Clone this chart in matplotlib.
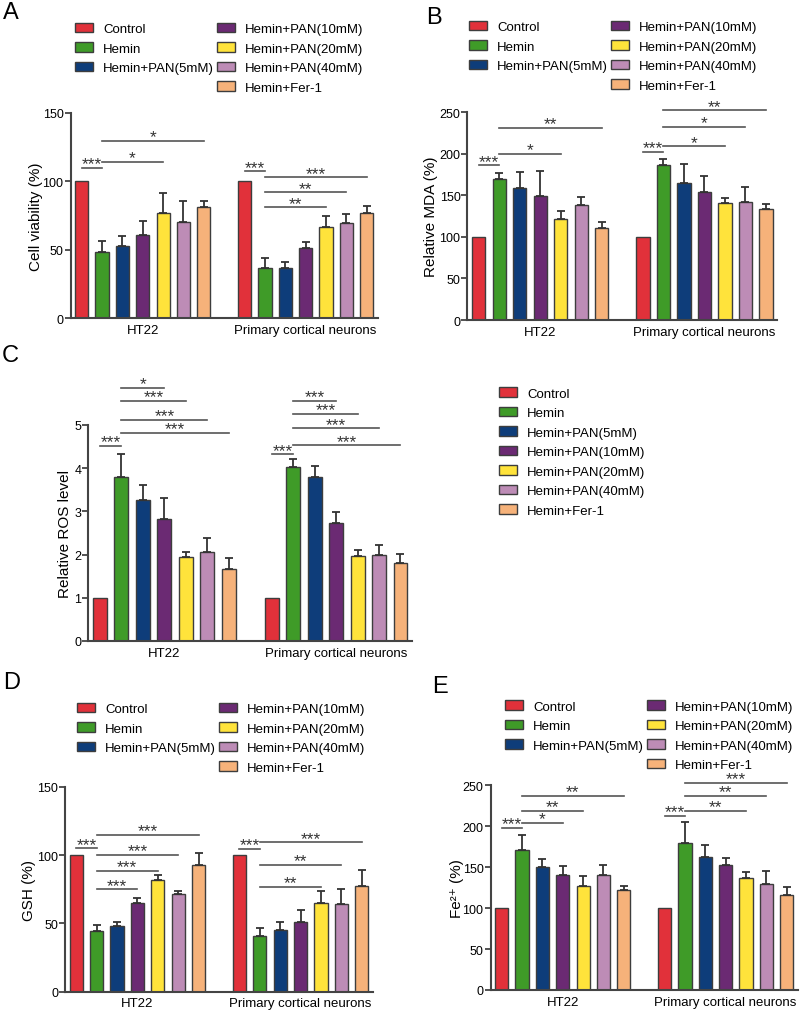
import matplotlib
matplotlib.use('Agg')
import matplotlib.pyplot as plt
from matplotlib.patches import Patch
import numpy as np

plt.rcParams['font.family'] = ['Liberation Sans', 'DejaVu Sans']

groups = ['HT22', 'Primary cortical neurons']
treatments = ['Control', 'Hemin', 'Hemin+PAN(5mM)', 'Hemin+PAN(10mM)',
              'Hemin+PAN(20mM)', 'Hemin+PAN(40mM)', 'Hemin+Fer-1']
colors = ['#E1313A', '#3F9B28', '#0E3D7A', '#6B2A73', '#FFE33B', '#BD8CB6', '#F6B27A']

# A - cell viability
via_ht22 = [100, 48, 52.4, 61, 76.6, 70, 81]
via_ht22_err = [0, 8, 7.4, 9.7, 15.1, 15.4, 4.4]
via_pcn = [100, 36.8, 36.8, 51.2, 66.8, 69.8, 76.6]
via_pcn_err = [0, 7.3, 3.9, 4.4, 7.6, 6.1, 5.6]
via_sig = [(0, 1, 109.8, '***'), (1, 4, 114.4, '*'), (1, 6, 129.8, '*'),
           (7, 8, 107.3, '***'), (8, 11, 81, '**'), (8, 12, 92, '**'), (8, 13, 103, '***')]

# B - MDA
mda_ht22 = [100, 169.2, 158.4, 149.1, 121, 137.9, 110.5]
mda_ht22_err = [0, 8, 19.2, 29.8, 10.4, 10.4, 7.7]
mda_pcn = [100, 186.1, 165.2, 154.3, 141.1, 141.5, 133.4]
mda_pcn_err = [0, 8, 21.7, 19.3, 5.6, 18.1, 6.1]
mda_sig = [(0, 1, 186, '***'), (1, 4, 199.8, '*'), (1, 6, 231.1, '**'),
           (7, 8, 202.2, '***'), (8, 11, 208.6, '*'), (8, 12, 231.9, '*'), (8, 13, 252, '**')]

# C - ROS
ros_ht22 = [1, 3.80, 3.26, 2.82, 1.94, 2.05, 1.66]
ros_ht22_err = [0, 0.54, 0.36, 0.48, 0.13, 0.33, 0.25]
ros_pcn = [1, 4.02, 3.79, 2.74, 1.97, 1.98, 1.81]
ros_pcn_err = [0, 0.19, 0.25, 0.25, 0.14, 0.25, 0.20]
ros_sig = [(0, 1, 4.51, '***'), (1, 3, 5.86, '*'), (1, 4, 5.56, '***'), (1, 5, 5.12, '***'),
           (1, 6, 4.81, '***'), (7, 8, 4.32, '***'), (8, 10, 5.56, '***'), (8, 11, 5.25, '***'),
           (8, 12, 4.92, '***'), (8, 13, 4.53, '***')]

# D - GSH
gsh_ht22 = [100, 44.1, 47.8, 64.6, 82, 71.5, 92.9]
gsh_ht22_err = [0, 4.4, 2.9, 4.2, 3.1, 2.2, 8.6]
gsh_pcn = [100, 40.5, 44.9, 50.7, 64.6, 64.1, 77.1]
gsh_pcn_err = [0, 6.1, 6.3, 9.3, 9.3, 10.8, 11.7]
gsh_sig = [(0, 1, 104.9, '***'), (1, 3, 74.9, '***'), (1, 4, 88.3, '***'), (1, 5, 100.2, '***'),
           (1, 6, 114.6, '***'), (7, 8, 104.4, '***'), (8, 11, 76.8, '**'), (8, 12, 92.7, '**'),
           (8, 13, 109.3, '***')]

# E - Fe2+
fe_ht22 = [100, 171.4, 149.8, 140, 127.4, 140.9, 121.7]
fe_ht22_err = [0, 18.3, 10.2, 11, 11.9, 11.8, 4.9]
fe_pcn = [100, 180, 162, 153.1, 136.8, 129.5, 116.4]
fe_pcn_err = [0, 24.8, 14.7, 8.5, 6.9, 15.9, 9]
fe_sig = [(0, 1, 197.9, '***'), (1, 3, 204, '*'), (1, 4, 219, '**'), (1, 6, 237.4, '**'),
          (7, 8, 213, '***'), (8, 11, 219, '**'), (8, 12, 237.4, '**'), (8, 13, 252.9, '***')]

W, H = 800, 1012
fig = plt.figure(figsize=(W / 100, H / 100), dpi=100)

xpos = np.r_[np.arange(7), np.arange(8, 15)]
EDGE = '#3d3d3d'


def px_axes(left, right, top, bottom):
    return fig.add_axes([left / W, 1 - bottom / H, (right - left) / W, (bottom - top) / H])


def panel(ax, ht, ht_err, pcn, pcn_err, ymax, ystep, ylabel, sigs, ylab_x):
    vals = np.array(list(ht) + list(pcn), dtype=float)
    errs = np.array(list(ht_err) + list(pcn_err), dtype=float)
    ax.bar(xpos, vals, width=0.65, color=colors * 2, edgecolor=EDGE, linewidth=1, zorder=2)
    m = errs > 0
    ax.errorbar(xpos[m], vals[m], yerr=[np.zeros(m.sum()), errs[m]], fmt='none',
                ecolor='#333333', elinewidth=1.3, capsize=3, capthick=1.3, zorder=3)
    for i, j, y, s in sigs:
        ax.plot([xpos[i], xpos[j]], [y, y], color='#555555', lw=1.2, clip_on=False, zorder=4)
        ax.annotate(s, ((xpos[i] + xpos[j]) / 2, y), xytext=(0, -0.3), textcoords='offset points',
                    ha='center', va='baseline', fontsize=12.5, color='#333333',
                    annotation_clip=False)
    ax.set_xlim(-0.55, 14.55)
    ax.set_ylim(0, ymax)
    ax.set_yticks(np.arange(0, ymax + ystep / 2, ystep))
    ax.set_xticks([3, 11])
    ax.set_xticklabels(groups, fontsize=9.5)
    ax.tick_params(axis='x', length=0, pad=4)
    ax.tick_params(axis='y', length=4, width=1.3, pad=1, labelsize=9, color='#444444')
    for s in ['top', 'right']:
        ax.spines[s].set_visible(False)
    for s in ['left', 'bottom']:
        ax.spines[s].set_linewidth(1.5)
        ax.spines[s].set_color('#444444')
    ax.set_ylabel(ylabel, fontsize=11)
    ax.yaxis.set_label_coords(ylab_x, 0.5)


def legend(x0, yc, two_col=True):
    hs = [Patch(facecolor=c, edgecolor=EDGE, lw=1) for c in colors]
    labels = list(treatments)
    if two_col:
        hs = hs[:3] + [Patch(facecolor='none', edgecolor='none')] + hs[3:]
        labels = labels[:3] + [''] + labels[3:]
    fig.legend(hs, labels, loc='upper left', bbox_to_anchor=(x0 / W, 1 - (yc - 8.5) / H),
               ncol=2 if two_col else 1, frameon=False, borderpad=0, borderaxespad=0,
               fontsize=9.5, handlelength=1.35, handleheight=0.77, handletextpad=0.8,
               labelspacing=0.53, columnspacing=0.2)


axA = px_axes(70.5, 377.9, 114, 319)
panel(axA, via_ht22, via_ht22_err, via_pcn, via_pcn_err, 150, 50,
      'Cell viability (%)', via_sig, -0.09)
legend(75, 32)

axB = px_axes(467.4, 777.3, 113, 321)
panel(axB, mda_ht22, mda_ht22_err, mda_pcn, mda_pcn_err, 250, 50,
      'Relative MDA (%)', mda_sig, -0.095)
legend(469, 30)

axC = px_axes(88.2, 412.3, 426, 642)
panel(axC, ros_ht22, ros_ht22_err, ros_pcn, ros_pcn_err, 5, 1,
      'Relative ROS level', ros_sig, -0.05)
legend(499, 396.5, two_col=False)

axD = px_axes(65.1, 372.9, 787.7, 992.7)
panel(axD, gsh_ht22, gsh_ht22_err, gsh_pcn, gsh_pcn_err, 150, 50,
      'GSH (%)', gsh_sig, -0.095)
legend(77, 712)

axE = px_axes(490.5, 797.9, 786.3, 991)
panel(axE, fe_ht22, fe_ht22_err, fe_pcn, fe_pcn_err, 250, 50,
      'Fe²⁺ (%)', fe_sig, -0.085)
legend(505, 709.5)

for lab, xx, yy in [('A', 3, 2), ('B', 426, 7), ('C', 2, 345), ('D', 3, 672), ('E', 432, 676)]:
    fig.text(xx / W, 1 - yy / H, lab, fontsize=17, ha='left', va='top')

fig.savefig('out.png', dpi=100)
